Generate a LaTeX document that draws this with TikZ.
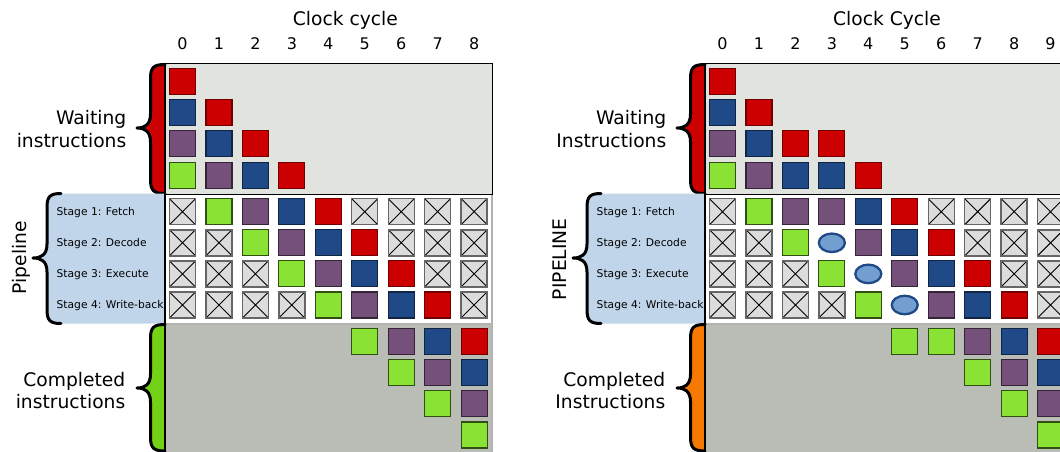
\documentclass[tikz,border=0pt]{standalone}
\usepackage{fontspec}
\setmainfont{DejaVu Sans}
\usetikzlibrary{shapes.geometric}
\definecolor{tred}{HTML}{CC0000}
\definecolor{tblue}{HTML}{204A87}
\definecolor{tpurple}{HTML}{75507B}
\definecolor{tgreen}{HTML}{8AE234}
\definecolor{bgreen}{HTML}{73D216}
\definecolor{torange}{HTML}{F57900}
\definecolor{tsky}{HTML}{729FCF}
\definecolor{waitbg}{HTML}{E1E3DE}
\definecolor{compbg}{HTML}{BABDB6}
\definecolor{pipeblue}{HTML}{C1D5EA}
\definecolor{xgray}{HTML}{DCDCDC}
\newcommand\bracepath[6]{(#6,#1) .. controls ({#5+3},#1) and (#5,{#1+3}) .. (#5,{#1+14}) -- (#5,{#3-14}) .. controls (#5,{#3-3}) and ({#5-6},#3) .. (#4,#3) .. controls ({#5-6},#3) and (#5,{#3+3}) .. (#5,{#3+14}) -- (#5,{#2-14}) .. controls (#5,{#2-3}) and ({#5+3},#2) .. (#6,#2)}
\begin{document}
\begin{tikzpicture}[x=1pt,y=-1pt,
  cell/.style={minimum size=26pt, inner sep=0pt, outer sep=0pt, line width=1.1pt},
  sqR/.style={cell, fill=tred, draw=tred!55!black},
  sqB/.style={cell, fill=tblue, draw=tblue!50!black},
  sqP/.style={cell, fill=tpurple, draw=tpurple!45!black},
  sqG/.style={cell, fill=tgreen, draw=tgreen!35!black},
  sqX/.style={cell, fill=xgray, draw=black!60, line width=1.4pt,
    path picture={\draw[black, line width=0.9pt]
      (path picture bounding box.south west) -- (path picture bounding box.north east)
      (path picture bounding box.north west) -- (path picture bounding box.south east);}},
  bub/.style={ellipse, minimum width=26pt, minimum height=18.5pt, inner sep=0pt, fill=tsky, draw=tblue, line width=2.3pt},
  lab/.style={font=\fontsize{18.7}{22}\selectfont, inner sep=0pt},
  stg/.style={font=\fontsize{10.7}{13}\selectfont, inner sep=0pt, anchor=base west},
  num/.style={font=\fontsize{16}{19}\selectfont, inner sep=0pt, anchor=base},
  bracestroke/.style={draw=black, line width=3pt, line cap=round, line join=round}]
\useasboundingbox (0,0) rectangle (1060,452);
\clip (0,0) rectangle (1060,452);
\fill[white] (0,0) rectangle (1060,452);

% ================= LEFT PANEL =================
\fill[compbg] (165,324) rectangle (492,460);
\draw[black!30, line width=1.5pt, fill=white] (165,194) rectangle (492,324);
\draw[black, line width=1pt, fill=waitbg] (165,64) rectangle (492,194);
\draw[black!30, line width=1.5pt] (492,324) -- (492,460);
\fill[tred] \bracepath{64.5}{193.5}{128}{137}{150.5}{165} -- cycle;
\draw[bracestroke] \bracepath{64.5}{193.5}{128}{137}{150.5}{165};
\fill[pipeblue] \bracepath{193.5}{323.5}{258}{33}{47}{61} -- (165,323.5) -- (165,193.5) -- cycle;
\draw[bracestroke] \bracepath{193.5}{323.5}{258}{33}{47}{61};
\fill[bgreen] \bracepath{324.5}{451}{388}{137}{150.5}{165} -- cycle;
\draw[bracestroke] \bracepath{324.5}{451}{388}{137}{150.5}{165};
\draw[black, line width=1.5pt] (165,64) -- (165,460);

\node[lab, anchor=base] (L-title) at (345.4,25.7) {Clock cycle};
\foreach \c in {0,...,8} \node[num] (L-n\c) at ({182.5+36.45*\c},50) {\c};
\node[lab, anchor=base east] (L-wait1) at (126.5,124.3) {Waiting};
\node[lab, anchor=base east] (L-wait2) at (126.5,147.3) {instructions};
\node[lab, anchor=base east] (L-comp1) at (125.5,386.5) {Completed};
\node[lab, anchor=base east] (L-comp2) at (125.5,408.5) {instructions};
\node[lab, anchor=base, rotate=90] (L-pipe) at (26.5,257.5) {Pipeline};
\node[stg] (L-s1) at (56.5,215.5) {Stage 1: Fetch};
\node[stg] (L-s2) at (56.5,246.6) {Stage 2: Decode};
\node[stg] (L-s3) at (56.5,277.9) {Stage 3: Execute};
\node[stg] (L-s4) at (56.5,308.9) {Stage 4: Write-back};

\foreach \c/\r/\s in {0/0/sqR, 0/1/sqB,1/1/sqR, 0/2/sqP,1/2/sqB,2/2/sqR, 0/3/sqG,1/3/sqP,2/3/sqB,3/3/sqR}
  \node[\s] (L-w-\c-\r) at ({182.5+36.45*\c},{81.4+31.25*\r}) {};
\foreach \c/\r/\s in {0/0/sqX,1/0/sqG,2/0/sqP,3/0/sqB,4/0/sqR,5/0/sqX,6/0/sqX,7/0/sqX,8/0/sqX,
  0/1/sqX,1/1/sqX,2/1/sqG,3/1/sqP,4/1/sqB,5/1/sqR,6/1/sqX,7/1/sqX,8/1/sqX,
  0/2/sqX,1/2/sqX,2/2/sqX,3/2/sqG,4/2/sqP,5/2/sqB,6/2/sqR,7/2/sqX,8/2/sqX,
  0/3/sqX,1/3/sqX,2/3/sqX,3/3/sqX,4/3/sqG,5/3/sqP,6/3/sqB,7/3/sqR,8/3/sqX}
  \node[\s] (L-p-\c-\r) at ({182.5+36.45*\c},{211.7+31.1*\r}) {};
\foreach \c/\r/\s in {5/0/sqG,6/0/sqP,7/0/sqB,8/0/sqR, 6/1/sqG,7/1/sqP,8/1/sqB, 7/2/sqG,8/2/sqP, 8/3/sqG}
  \node[\s] (L-c-\c-\r) at ({182.5+36.45*\c},{341.7+31.1*\r}) {};

% ================= RIGHT PANEL =================
\begin{scope}[xshift=540pt]
\fill[compbg] (165,324) rectangle (540,460);
\draw[black!30, line width=1.5pt, fill=white] (165,194) rectangle (540,324);
\draw[black, line width=1pt, fill=waitbg] (165,64) rectangle (540,194);
\fill[tred] \bracepath{64.5}{193.5}{128}{137}{150.5}{165} -- cycle;
\draw[bracestroke] \bracepath{64.5}{193.5}{128}{137}{150.5}{165};
\fill[pipeblue] \bracepath{193.5}{323.5}{258}{33}{47}{61} -- (165,323.5) -- (165,193.5) -- cycle;
\draw[bracestroke] \bracepath{193.5}{323.5}{258}{33}{47}{61};
\fill[torange] \bracepath{324.5}{451}{388}{137}{150.5}{165} -- cycle;
\draw[bracestroke] \bracepath{324.5}{451}{388}{137}{150.5}{165};
\draw[black, line width=1.5pt] (165,64) -- (165,460);

\node[lab, anchor=base] (R-title) at (347,25.7) {Clock Cycle};
\foreach \c in {0,...,9} \node[num] (R-n\c) at ({182.5+36.45*\c},50) {\c};
\node[lab, anchor=base east] (R-wait1) at (126.5,124.3) {Waiting};
\node[lab, anchor=base east] (R-wait2) at (126.5,147.3) {Instructions};
\node[lab, anchor=base east] (R-comp1) at (125.5,386.5) {Completed};
\node[lab, anchor=base east] (R-comp2) at (125.5,408.5) {Instructions};
\node[lab, anchor=base, rotate=90] (R-pipe) at (26,259.2) {PIPELINE};
\node[stg] (R-s1) at (56.5,215.5) {Stage 1: Fetch};
\node[stg] (R-s2) at (56.5,246.6) {Stage 2: Decode};
\node[stg] (R-s3) at (56.5,277.9) {Stage 3: Execute};
\node[stg] (R-s4) at (56.5,308.9) {Stage 4: Write-back};

\foreach \c/\r/\s in {0/0/sqR, 0/1/sqB,1/1/sqR, 0/2/sqP,1/2/sqB,2/2/sqR,3/2/sqR, 0/3/sqG,1/3/sqP,2/3/sqB,3/3/sqB,4/3/sqR}
  \node[\s] (R-w-\c-\r) at ({182.5+36.45*\c},{81.4+31.25*\r}) {};
\foreach \c/\r/\s in {0/0/sqX,1/0/sqG,2/0/sqP,3/0/sqP,4/0/sqB,5/0/sqR,6/0/sqX,7/0/sqX,8/0/sqX,9/0/sqX,
  0/1/sqX,1/1/sqX,2/1/sqG,3/1/bub,4/1/sqP,5/1/sqB,6/1/sqR,7/1/sqX,8/1/sqX,9/1/sqX,
  0/2/sqX,1/2/sqX,2/2/sqX,3/2/sqG,4/2/bub,5/2/sqP,6/2/sqB,7/2/sqR,8/2/sqX,9/2/sqX,
  0/3/sqX,1/3/sqX,2/3/sqX,3/3/sqX,4/3/sqG,5/3/bub,6/3/sqP,7/3/sqB,8/3/sqR,9/3/sqX}
  \node[\s] (R-p-\c-\r) at ({182.5+36.45*\c},{211.7+31.1*\r}) {};
\foreach \c/\r/\s in {5/0/sqG,6/0/sqG,7/0/sqP,8/0/sqB,9/0/sqR, 7/1/sqG,8/1/sqP,9/1/sqB, 8/2/sqG,9/2/sqP, 9/3/sqG}
  \node[\s] (R-c-\c-\r) at ({182.5+36.45*\c},{341.7+31.1*\r}) {};
\end{scope}
\end{tikzpicture}
\end{document}
